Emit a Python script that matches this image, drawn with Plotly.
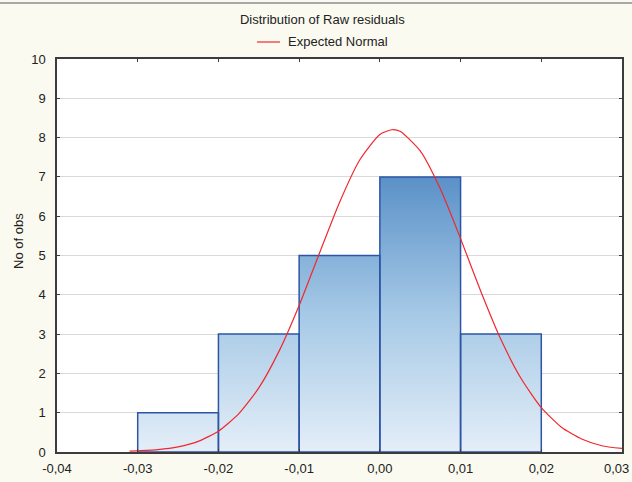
import plotly.graph_objects as go

# Histogram of raw residuals: bin edges and observation counts
bin_edges = [-0.03, -0.02, -0.01, 0.00, 0.01, 0.02]
counts = [1, 3, 5, 7, 3]

# Expected normal curve (scaled to counts per bin)
normal_x = [-0.0310, -0.0300, -0.0275, -0.0250, -0.0225, -0.0200, -0.0175,
            -0.0150, -0.0125, -0.0100, -0.0075, -0.0050, -0.0025, 0.0000,
            0.0015, 0.0025, 0.0050, 0.0075, 0.0100, 0.0125, 0.0150, 0.0175,
            0.0200, 0.0225, 0.0250, 0.0275, 0.0300]
normal_y = [0.02, 0.03, 0.06, 0.13, 0.27, 0.53, 0.97,
            1.63, 2.56, 3.73, 5.05, 6.35, 7.43, 8.08,
            8.20, 8.16, 7.66, 6.69, 5.43, 4.09, 2.86, 1.87,
            1.13, 0.63, 0.33, 0.16, 0.09]

x_ticks = [-0.04, -0.03, -0.02, -0.01, 0.00, 0.01, 0.02, 0.03]
x_tick_labels = ["-0,04", "-0,03", "-0,02", "-0,01", "0,00", "0,01", "0,02", "0,03"]
y_ticks = [0, 1, 2, 3, 4, 5, 6, 7, 8, 9, 10]

title_text = "Distribution of Raw residuals"
y_title = "No of obs"
curve_name = "Expected Normal"

X_MIN, X_MAX = -0.04, 0.03

# Outer step outline of the histogram, used for the gradient fill
step_x = [bin_edges[0]]
step_y = [0]
for left, right, c in zip(bin_edges[:-1], bin_edges[1:], counts):
    step_x += [left, right]
    step_y += [c, c]
step_x += [bin_edges[-1], bin_edges[0]]
step_y += [0, 0]

# Individual bar rectangles (outlines), separated by gaps
rect_x, rect_y = [], []
for left, right, c in zip(bin_edges[:-1], bin_edges[1:], counts):
    rect_x += [left, left, right, right, left, None]
    rect_y += [0, c, c, 0, 0, None]

fig = go.Figure()

fig.add_trace(go.Scatter(
    x=step_x, y=step_y, mode="none", fill="toself",
    fillgradient=dict(type="vertical", start=0, stop=max(counts),
                      colorscale=[[0, "#e4eef8"], [0.5, "#a6c9e6"], [1, "#5b91c8"]]),
    showlegend=False, hoverinfo="skip",
))

fig.add_trace(go.Scatter(
    x=rect_x, y=rect_y, mode="lines",
    line=dict(color="#2d55a6", width=1.5),
    showlegend=False, hoverinfo="skip",
))

fig.add_trace(go.Scatter(
    x=normal_x, y=normal_y, mode="lines", name=curve_name,
    line=dict(color="#f0282d", width=1.2, shape="spline", smoothing=0.6),
    showlegend=False,
))

font_family = "Liberation Sans, Arial, sans-serif"
txt = "#222222"

# Plot area geometry in pixels (for placing paper-referenced items)
L, R, T, B = 57, 10, 59, 30
PW, PH = 632 - L - R, 482 - T - B

def px_x(px):
    return (px - L) / PW

def px_y(py):
    return (482 - B - py) / PH

annotations = [
    dict(text=y_title, textangle=-90, xref="paper", yref="paper",
         x=px_x(18), y=px_y(241), xanchor="center", yanchor="middle",
         showarrow=False, font=dict(size=13, color=txt)),
    # legend entry text
    dict(text=curve_name, xref="paper", yref="paper",
         x=px_x(286), y=px_y(42), xanchor="left", yanchor="middle",
         showarrow=False, font=dict(size=13, color=txt)),
    # rightmost tick label, kept inside the page edge
    dict(text=x_tick_labels[-1], xref="paper", yref="paper",
         x=px_x(631), y=px_y(459), xanchor="right", yanchor="top",
         showarrow=False, font=dict(size=13, color=txt)),
]

shapes = [
    dict(type="line", xref="paper", yref="paper",
         x0=px_x(0), x1=px_x(632), y0=px_y(3), y1=px_y(3),
         line=dict(color="#a8a8a8", width=2)),
    # legend entry line sample
    dict(type="line", xref="paper", yref="paper",
         x0=px_x(257), x1=px_x(280), y0=px_y(42), y1=px_y(42),
         line=dict(color="#f0282d", width=1.2)),
]

fig.update_layout(
    width=632, height=482,
    margin=dict(l=L, r=R, t=T, b=B, autoexpand=False),
    paper_bgcolor="#fbfaf0",
    plot_bgcolor="#ffffff",
    font=dict(family=font_family, size=13, color=txt),
    title=dict(text=title_text, x=0.51, xanchor="center",
               y=1 - 19 / 482, yanchor="middle",
               font=dict(size=13, color=txt)),
    showlegend=False,
    xaxis=dict(range=[X_MIN, X_MAX], tickvals=x_ticks[:-1], ticktext=x_tick_labels[:-1],
               showgrid=False, zeroline=False, showline=True, linecolor="#3c3c3c",
               linewidth=1.5, mirror="ticks", ticks="inside", ticklen=3,
               tickcolor="#3c3c3c", ticklabelstandoff=4, automargin=False),
    yaxis=dict(range=[0, 10], tickvals=y_ticks, showgrid=True, gridcolor="#d9d9d9",
               gridwidth=1, zeroline=False, showline=True, linecolor="#3c3c3c",
               linewidth=1.5, mirror="ticks", ticks="inside", ticklen=3,
               tickcolor="#3c3c3c", ticklabelstandoff=7, automargin=False),
    annotations=annotations,
    shapes=shapes,
)

fig.write_html("out.html")
